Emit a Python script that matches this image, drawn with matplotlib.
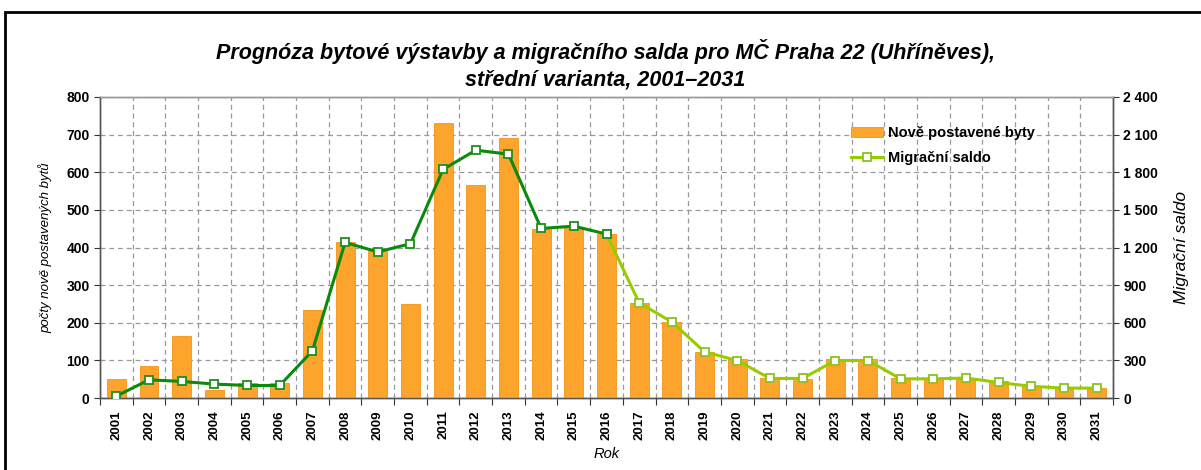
import matplotlib
matplotlib.use('Agg')
import matplotlib.pyplot as plt
import numpy as np
from matplotlib.patches import Rectangle
from matplotlib.ticker import FuncFormatter

plt.rcParams['font.family'] = ['Liberation Sans', 'DejaVu Sans']

years = [str(y) for y in range(2001, 2032)]
byty = [50, 85, 165, 20, 40, 40, 235, 415, 390, 250, 730, 565,
        690, 450, 455, 435, 253, 202, 123, 103, 53, 51, 103, 103,
        53, 51, 51, 44, 31, 26, 26]
saldo = [15, 145, 132, 111, 100, 100, 376, 1240, 1165, 1230, 1823, 1976,
         1944, 1352, 1370, 1307, 759, 606, 368, 299, 156, 156, 299, 299,
         153, 153, 159, 124, 93, 79, 79]
split = 15  # index of 2016 - dark line up to here, light afterwards

fig = plt.figure(figsize=(12.01, 4.70), dpi=100)
ax = fig.add_axes([100/1201, 72/470, 1013/1201, 301/470])
ax2 = ax.twinx()

x = np.arange(len(years))
bars = ax.bar(x, byty, width=0.58, color='#FDA42C', edgecolor='#F39418',
              linewidth=0.6, zorder=3, label='Nově postavené byty')

ax2.plot(x[:split + 1], saldo[:split + 1], color='#0A8A0A', lw=2.2,
         marker='s', ms=6, mfc='white', mec='#1E8F1E', mew=1.3, zorder=4)
line, = ax2.plot(x[split:], saldo[split:], color='#99CC00', lw=2.2,
                 marker='s', ms=6, mfc='white', mec='#8DC21F', mew=1.3,
                 zorder=4, label='Migrační saldo')
# redraw 2016 marker with dark edge
ax2.plot(x[split], saldo[split], ls='none', marker='s', ms=6, mfc='white',
         mec='#1E8F1E', mew=1.3, zorder=5)

ax.set_xlim(-0.5, len(years) - 0.5)
ax.set_ylim(0, 800)
ax2.set_ylim(0, 2400)
ax.set_yticks(range(0, 801, 100))
ax2.set_yticks(range(0, 2401, 300))
ax2.yaxis.set_major_formatter(FuncFormatter(lambda v, p: f'{int(v):,}'.replace(',', ' ')))

ax.set_xticks(np.arange(-0.5, len(years), 1))
ax.set_xticklabels([])
ax.set_xticks(x, minor=True)
ax.set_xticklabels(years, minor=True, rotation=90, fontweight='bold', fontsize=9.5)
ax.tick_params(axis='x', which='major', length=5, direction='out', color='#333333')
ax.tick_params(axis='x', which='minor', length=0, pad=9)
ax.tick_params(axis='y', length=4, labelsize=10, color='#333333')
ax2.tick_params(axis='y', length=4, labelsize=10, color='#333333')
for t in ax.get_yticklabels() + ax2.get_yticklabels():
    t.set_fontweight('bold')

ax.grid(True, which='major', ls=(0, (4, 3)), color='#999999', lw=0.9, zorder=0)
ax.set_axisbelow(True)

for a in (ax, ax2):
    for s in a.spines.values():
        s.set_color('#555555')
        s.set_linewidth(1.0)
    a.spines['top'].set_color('#999999')

ax.set_ylabel('počty nově postavených bytů', fontstyle='italic', fontsize=9.5, labelpad=10)
ax2.set_ylabel('Migrační saldo', fontstyle='italic', fontsize=12.5, labelpad=11, rotation=90)
ax.set_xlabel('Rok', fontstyle='italic', fontsize=10.5, labelpad=5)

fig.text(605/1201, 1 - 52/470, 'Prognóza bytové výstavby a migračního salda pro MČ Praha 22 (Uhříněves),',
         ha='center', va='center', fontsize=15.5, fontweight='bold', fontstyle='italic')
fig.text(605/1201, 1 - 80/470, 'střední varianta, 2001–2031',
         ha='center', va='center', fontsize=15.5, fontweight='bold', fontstyle='italic')

leg = fig.legend([bars, line], ['Nově postavené byty', 'Migrační saldo'],
                 loc='upper left', bbox_to_anchor=(838/1201, 1 - 113/470),
                 frameon=False, handlelength=2.2, labelspacing=0.75,
                 handletextpad=0.3, prop={'size': 10.5, 'weight': 'bold'})

fig.patches.append(Rectangle((5/1201, -0.01), 1.0, 1 - 12/470 + 0.01,
                             transform=fig.transFigure, fill=False,
                             edgecolor='black', lw=2))

fig.savefig('out.png', dpi=100)
